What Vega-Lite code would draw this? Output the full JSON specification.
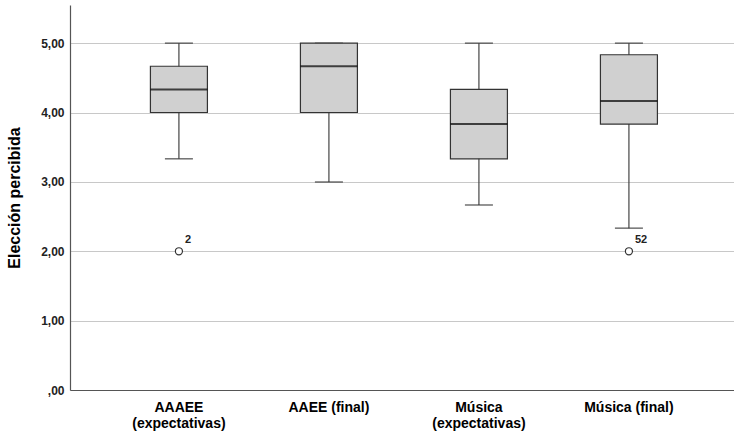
{
  "$schema": "https://vega.github.io/schema/vega-lite/v6.json",
  "width": 664,
  "height": 385,
  "autosize": {"type": "none"},
  "padding": {"left": 70, "top": 5, "right": 0, "bottom": 48},
  "background": "white",
  "config": {
    "view": {"stroke": null},
    "font": "Liberation Sans"
  },
  "datasets": {
    "boxes": [
      {"cat": "AAAEE (expectativas)", "lower": 3.333, "q1": 4.0, "median": 4.333, "q3": 4.667, "upper": 5.0},
      {"cat": "AAEE (final)", "lower": 3.0, "q1": 4.0, "median": 4.667, "q3": 5.0, "upper": 5.0},
      {"cat": "Música (expectativas)", "lower": 2.667, "q1": 3.333, "median": 3.833, "q3": 4.333, "upper": 5.0},
      {"cat": "Música (final)", "lower": 2.333, "q1": 3.833, "median": 4.167, "q3": 4.833, "upper": 5.0}
    ],
    "outliers": [
      {"cat": "AAAEE (expectativas)", "value": 2.0, "label": "2"},
      {"cat": "Música (final)", "value": 2.0, "label": "52"}
    ]
  },
  "encoding": {
    "x": {
      "field": "cat",
      "type": "nominal",
      "sort": ["AAAEE (expectativas)", "AAEE (final)", "Música (expectativas)", "Música (final)"],
      "scale": {"paddingOuter": 0.2133, "paddingInner": 0, "align": 0.53},
      "axis": {
        "title": null,
        "labelAngle": 0,
        "ticks": false,
        "grid": false,
        "domainColor": "#555555",
        "domainWidth": 1.2,
        "labelFont": "Liberation Sans",
        "labelFontWeight": "bold",
        "labelFontSize": 14,
        "labelColor": "#000000",
        "labelPadding": 10,
        "labelLineHeight": 16,
        "labelExpr": "indexof(datum.label, '(final)') >= 0 ? datum.label : split(datum.label, ' ')"
      }
    }
  },
  "layer": [
    {
      "data": {"name": "boxes"},
      "mark": {"type": "rule", "color": "#444444", "strokeWidth": 1.2},
      "encoding": {
        "y": {
          "field": "lower",
          "type": "quantitative",
          "scale": {"domain": [0, 5.55], "nice": false, "zero": true},
          "axis": {
            "title": "Elección percibida",
            "titleFont": "Liberation Sans",
            "titleFontSize": 16,
            "titleFontWeight": "bold",
            "titleColor": "#000000",
            "titlePadding": 18,
            "values": [0, 1, 2, 3, 4, 5],
            "labelExpr": "datum.value == 0 ? ',00' : replace(format(datum.value, '.2f'), '.', ',')",
            "labelFont": "Liberation Sans",
            "labelFontWeight": "bold",
            "labelFontSize": 12,
            "labelColor": "#222222",
            "labelPadding": 6,
            "ticks": false,
            "grid": true,
            "gridColor": "#c8c8c8",
            "gridWidth": 1.2,
            "domainColor": "#555555",
            "domainWidth": 1.2
          }
        },
        "y2": {"field": "upper"}
      }
    },
    {
      "data": {"name": "boxes"},
      "mark": {"type": "tick", "color": "#333333", "size": 28, "thickness": 1.5},
      "encoding": {"y": {"field": "lower", "type": "quantitative"}}
    },
    {
      "data": {"name": "boxes"},
      "mark": {"type": "tick", "color": "#333333", "size": 28, "thickness": 1.5},
      "encoding": {"y": {"field": "upper", "type": "quantitative"}}
    },
    {
      "data": {"name": "boxes"},
      "mark": {"type": "bar", "size": 57, "fill": "#d0d0d0", "stroke": "#333333", "strokeWidth": 1.2},
      "encoding": {
        "y": {"field": "q1", "type": "quantitative"},
        "y2": {"field": "q3"}
      }
    },
    {
      "data": {"name": "boxes"},
      "mark": {"type": "tick", "color": "#000000", "size": 57, "thickness": 2},
      "encoding": {"y": {"field": "median", "type": "quantitative"}}
    },
    {
      "data": {"name": "outliers"},
      "mark": {"type": "point", "shape": "circle", "size": 50, "filled": false, "stroke": "#333333", "strokeWidth": 1.2, "fill": "white", "opacity": 1},
      "encoding": {"y": {"field": "value", "type": "quantitative"}}
    },
    {
      "data": {"name": "outliers"},
      "mark": {"type": "text", "align": "left", "baseline": "middle", "dx": 6, "dy": -11, "font": "Liberation Sans", "fontWeight": "bold", "fontSize": 11, "color": "#222222"},
      "encoding": {
        "y": {"field": "value", "type": "quantitative"},
        "text": {"field": "label"}
      }
    }
  ]
}
